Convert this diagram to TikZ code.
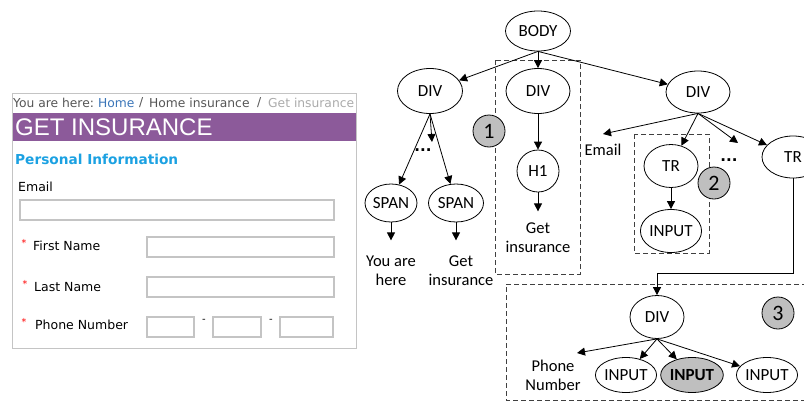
\documentclass[tikz,border=0pt]{standalone}
\usepackage{fontspec}
\setmainfont{Carlito}
\newfontfamily\formfont{DejaVu Sans}
\newfontfamily\arialfont{Liberation Sans}
\usetikzlibrary{shapes.geometric,arrows.meta}
\definecolor{purpband}{HTML}{8C5A9A}
\definecolor{linkblue}{HTML}{3A75B8}
\definecolor{headblue}{HTML}{1BA1E2}
\definecolor{crumbgray}{HTML}{555555}
\definecolor{lightcrumb}{HTML}{AAAAAA}
\definecolor{boxgray}{HTML}{C4C4C4}
\definecolor{dashgray}{HTML}{404040}
\definecolor{badgegray}{HTML}{BFBFBF}
\tikzset{
  tnode/.style={ellipse, draw, line width=0.8pt, inner sep=0pt, font=\fontsize{17}{20}\selectfont},
  ttext/.style={inner sep=0pt, align=center, font=\fontsize{16.5}{19}\selectfont},
  arr/.style={line width=0.8pt, -{Triangle[length=8pt,width=8pt]}},
  dbox/.style={dashgray, line width=0.8pt, dash pattern=on 5pt off 3pt},
  badge/.style={circle, draw, line width=0.8pt, fill=badgegray, minimum size=32pt, inner sep=0pt, font=\fontsize{22}{24}\selectfont},
  ftext/.style={inner sep=0pt, anchor=west, font=\formfont\fontsize{12.5}{14}\selectfont},
  crumb/.style={inner sep=0pt, anchor=west, font=\formfont\fontsize{12.3}{14}\selectfont},
  fbox/.style={draw=boxgray, line width=1.1pt},
  star/.style={inner sep=0pt, text=red, font=\formfont\fontsize{9.5}{10}\selectfont},
  dotsn/.style={inner sep=0pt, font=\formfont\bfseries\fontsize{15}{16}\selectfont}
}
\begin{document}
\begin{tikzpicture}[x=1pt,y=-1pt]
\useasboundingbox (0,0) rectangle (804,402);

% ---------------- left form ----------------
\draw[boxgray, line width=0.9pt] (12.5,93.5) rectangle (356.5,348);
\node[crumb, text=crumbgray] (cr1) at (13,103) {You are here:};
\node[crumb, text=linkblue] (cr2) at (98,103) {Home};
\node[crumb, text=crumbgray] (cr3) at (139,103) {/};
\node[crumb, text=crumbgray] (cr4) at (149,103) {Home insurance};
\node[crumb, text=crumbgray] (cr5) at (257,103) {/};
\node[crumb, text=lightcrumb] (cr6) at (268,103) {Get insurance};
\fill[purpband] (13,113) rectangle (356,141);
\node[inner sep=0pt, anchor=west, text=white, font=\arialfont\fontsize{24}{26}\selectfont] (title) at (15,127.5) {GET INSURANCE};
\node[inner sep=0pt, anchor=west, text=headblue, font=\formfont\bfseries\fontsize{13.7}{15}\selectfont] (pinfo) at (15,159) {Personal Information};
\node[ftext] (email) at (18,187) {Email};
\draw[fbox] (20,200) rectangle (334,220);
\node[star] (s1) at (24,243) {*};
\node[ftext] (fname) at (33,246) {First Name};
\draw[fbox] (147,237) rectangle (334,257);
\node[star] (s2) at (25,284) {*};
\node[ftext] (lname) at (34,287) {Last Name};
\draw[fbox] (147,277) rectangle (334,297);
\node[star] (s3) at (24,322) {*};
\node[ftext] (phone) at (35,325) {Phone Number};
\draw[fbox] (147,317) rectangle (194,337);
\draw[fbox] (213,317) rectangle (261,337);
\draw[fbox] (280,317) rectangle (333,337);
\node[inner sep=0pt, font=\formfont\fontsize{10}{11}\selectfont] (d1) at (204,321) {-};
\node[inner sep=0pt, font=\formfont\fontsize{10}{11}\selectfont] (d2) at (271,321) {-};

% ---------------- dashed boxes ----------------
\draw[dbox] (495,60) rectangle (580,274);
\draw[dbox] (634,134) rectangle (709,253);
\draw[dbox] (815,284) -- (506,284) -- (506,400) -- (815,400);

% ---------------- tree ----------------
\node[tnode, minimum width=65pt, minimum height=40pt] (body) at (538,31) {BODY};
\node[tnode, minimum width=65pt, minimum height=45pt] (div1) at (430,91) {DIV};
\node[tnode, minimum width=64pt, minimum height=45pt] (div2) at (538,91) {DIV};
\node[tnode, minimum width=64pt, minimum height=42pt] (div3) at (698,92) {DIV};
\node[tnode, minimum width=42pt, minimum height=42pt] (h1) at (538,171) {H1};
\node[tnode, minimum width=52pt, minimum height=38pt] (span1) at (391,203) {SPAN};
\node[tnode, minimum width=55pt, minimum height=38pt] (span2) at (456,203) {SPAN};
\node[tnode, minimum width=54pt, minimum height=43pt] (tr1) at (671,166) {TR};
\node[tnode, minimum width=62pt, minimum height=42pt] (tr2) at (793,157) {TR};
\node[tnode, minimum width=57pt, minimum height=43pt] (input0) at (671,231) {INPUT};
\node[tnode, minimum width=54pt, minimum height=43pt] (div4) at (657,317) {DIV};
\node[tnode, minimum width=49pt, minimum height=35pt] (in1) at (626,375) {INPUT};
\node[tnode, minimum width=54pt, minimum height=35pt, fill=badgegray, font=\fontsize{17}{20}\selectfont\bfseries] (in2) at (692,375) {INPUT};
\node[tnode, minimum width=53pt, minimum height=35pt] (in3) at (767,375) {INPUT};

\node[ttext] (t1) at (391,271) {You are\\here};
\node[ttext] (t2) at (461,271) {Get\\insurance};
\node[ttext] (t3) at (538,238) {Get\\insurance};
\node[ttext] (t4) at (603,150) {Email};
\node[ttext] (t5) at (553,375) {Phone\\Number};
\node[dotsn] (dots1) at (423,150) {...};
\node[dotsn] (dots2) at (729,160) {...};

\node[badge] (b1) at (489,131) {1};
\node[badge] (b2) at (714,183) {2};
\node[badge] (b3) at (778,313) {3};

\coordinate (c1) at (432,142);
\coordinate (c2) at (603,134);
\coordinate (c3) at (738,143);
\coordinate (c4) at (577,353);

\draw[arr] (body.south) -- (div1);
\draw[arr] (body.south) -- (div2);
\draw[arr] (body.south) -- (div3);
\draw[arr] (div1.south) -- (span1);
\draw[arr] (div1.south) -- (span2);
\draw[arr] (div1.south) -- (c1);
\draw[arr] (span1.south) -- ++(0,18);
\draw[arr] (span2.south) -- ++(0,18);
\draw[arr] (div2) -- (h1);
\draw[arr] (h1.south) -- ++(0,19);
\draw[arr] (div3.south) -- (c2);
\draw[arr] (div3.south) -- (tr1);
\draw[arr] (div3.south) -- (c3);
\draw[arr] (div3.south) -- (tr2);
\draw[arr] (tr1) -- (input0);
\draw[arr] (tr2.south) -- ++(0,95) -| (div4.north);
\draw[arr] (div4.south) -- (c4);
\draw[arr] (div4.south) -- (in1);
\draw[arr] (div4.south) -- (in2);
\draw[arr] (div4.south) -- (in3);
\end{tikzpicture}
\end{document}
